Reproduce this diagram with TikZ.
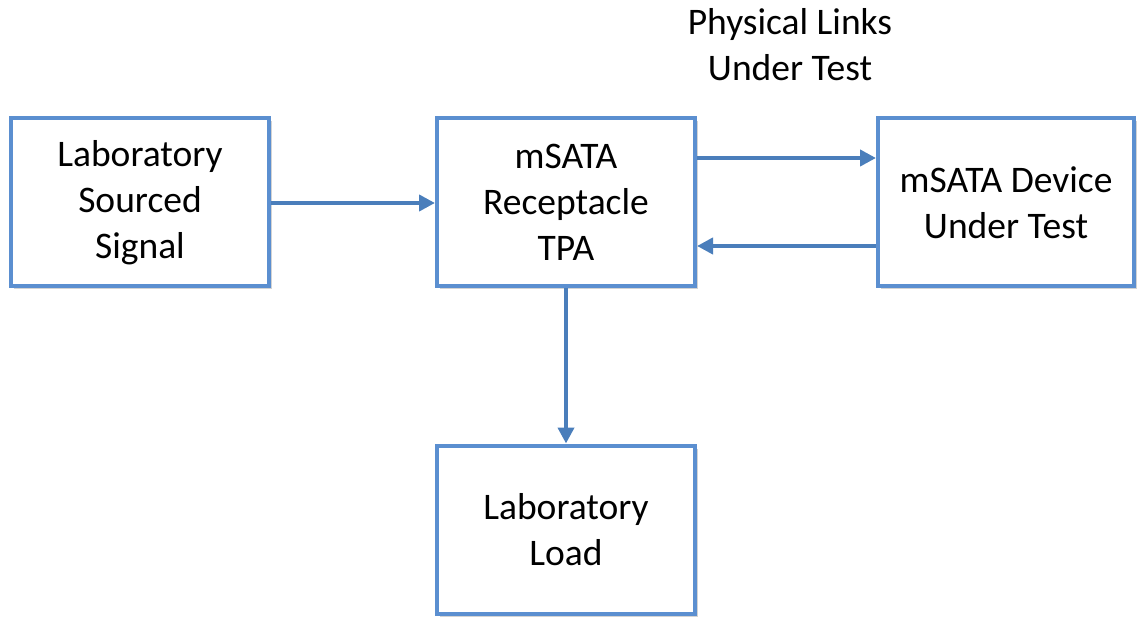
\documentclass[tikz,border=0pt]{standalone}
\usepackage{fontspec}
\setmainfont{Carlito}
\usetikzlibrary{shadows,arrows.meta}
\definecolor{boxblue}{HTML}{5B8FD0}
\definecolor{arrowblue}{HTML}{4A7EBB}
\tikzset{
  blockbox/.style={draw=boxblue, line width=4pt, fill=white, minimum width=258pt, minimum height=168pt, align=center, font=\fontsize{37.5}{46}\selectfont, inner sep=0pt,
    drop shadow={shadow xshift=3pt, shadow yshift=-3pt, opacity=0.35, fill=gray}},
  conn/.style={draw=arrowblue, line width=4.5pt, -{Triangle[length=16pt,width=16pt]}},
  lbl/.style={align=center, font=\fontsize{37.5}{46}\selectfont}
}
\begin{document}
\begin{tikzpicture}[x=1pt,y=-1pt]
\useasboundingbox (0,0) rectangle (1138,620);
\node[blockbox] (src) at (140,202.5) {Laboratory\\Sourced\\Signal};
\node[blockbox] (tpa) at (566,202.5) {mSATA\\Receptacle\\TPA};
\node[blockbox, minimum width=256pt] (dut) at (1006,202.5) {mSATA Device\\Under Test};
\node[blockbox] (load) at (566,529.5) {Laboratory\\Load};
\node[lbl] (phys) at (790,45) {Physical Links\\Under Test};
\draw[conn] (src.east |- 0,203) -- (tpa.west |- 0,203);
\draw[conn] (tpa.east |- 0,158) -- (dut.west |- 0,158);
\draw[conn] (dut.west |- 0,246) -- (tpa.east |- 0,246);
\draw[conn] (tpa.south) -- (load.north);
\end{tikzpicture}
\end{document}
